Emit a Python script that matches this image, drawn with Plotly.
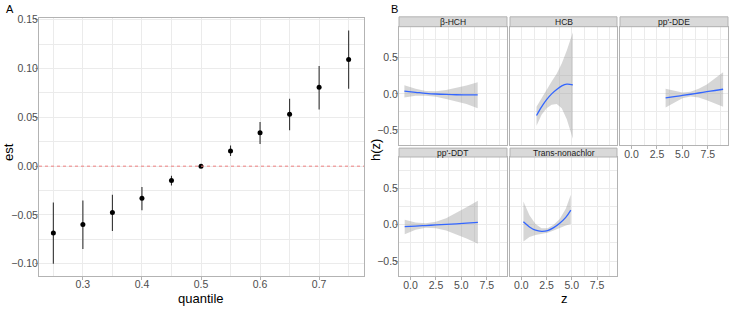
import plotly.graph_objects as go

W, H = 738, 310

# ---------------- Data ----------------
quantile = [0.25, 0.30, 0.35, 0.40, 0.45, 0.50, 0.55, 0.60, 0.65, 0.70, 0.75]
est = [-0.0684, -0.0597, -0.0476, -0.0328, -0.0147, 0.0, 0.0155, 0.0342, 0.0533, 0.0809, 0.1094]
est_lo = [-0.100, -0.0848, -0.0664, -0.0453, -0.0197, 0.0, 0.0105, 0.0228, 0.0369, 0.0581, 0.0792]
est_hi = [-0.0372, -0.0352, -0.0292, -0.0214, -0.0097, 0.0, 0.0211, 0.0453, 0.0691, 0.1026, 0.1390]

hch_z = [-0.6, 0.5, 1.5, 2.5, 3.5, 4.5, 5.5, 6.6]
hch_h = [0.037, 0.022, 0.008, -0.002, -0.008, -0.012, -0.013, -0.014]
hch_lo = [-0.05, -0.025, -0.025, -0.04, -0.07, -0.10, -0.14, -0.20]
hch_hi = [0.12, 0.07, 0.04, 0.035, 0.055, 0.08, 0.115, 0.16]

hcb_z = [1.5, 2.0, 2.5, 3.0, 3.5, 4.0, 4.5, 5.1]
hcb_h = [-0.30, -0.18, -0.08, 0.00, 0.06, 0.11, 0.135, 0.125]
hcb_lo = [-0.44, -0.29, -0.20, -0.15, -0.14, -0.20, -0.35, -0.62]
hcb_hi = [-0.18, -0.06, 0.07, 0.17, 0.28, 0.42, 0.60, 0.85]

dde_z = [3.35, 4.2, 5.0, 5.8, 6.6, 7.4, 8.2, 9.0]
dde_h = [-0.055, -0.038, -0.022, -0.005, 0.012, 0.030, 0.047, 0.064]
dde_lo = [-0.19, -0.12, -0.06, -0.035, -0.05, -0.09, -0.135, -0.18]
dde_hi = [0.07, 0.04, 0.02, 0.03, 0.07, 0.13, 0.21, 0.30]

ddt_z = [-0.57, 0.5, 1.5, 2.5, 3.5, 4.5, 5.5, 6.62]
ddt_h = [-0.027, -0.019, -0.011, -0.003, 0.005, 0.013, 0.021, 0.031]
ddt_lo = [-0.13, -0.07, -0.04, -0.05, -0.08, -0.13, -0.19, -0.26]
ddt_hi = [0.07, 0.03, 0.02, 0.04, 0.09, 0.16, 0.24, 0.33]

tn_z = [0.2, 0.8, 1.4, 2.0, 2.6, 3.2, 3.8, 4.4, 4.9]
tn_h = [0.04, -0.03, -0.075, -0.09, -0.08, -0.04, 0.02, 0.10, 0.20]
tn_lo = [-0.23, -0.17, -0.14, -0.13, -0.11, -0.08, -0.04, -0.01, 0.01]
tn_hi = [0.32, 0.13, 0.01, -0.05, -0.05, 0.00, 0.08, 0.22, 0.41]

facet_names = ["β-HCH", "HCB", "pp'-DDE", "pp'-DDT", "Trans-nonachlor"]
facet_data = [
    (hch_z, hch_h, hch_lo, hch_hi),
    (hcb_z, hcb_h, hcb_lo, hcb_hi),
    (dde_z, dde_h, dde_lo, dde_hi),
    (ddt_z, ddt_h, ddt_lo, ddt_hi),
    (tn_z, tn_h, tn_lo, tn_hi),
]

z_ticks = [0.0, 2.5, 5.0, 7.5]
z_tick_text = ["0.0", "2.5", "5.0", "7.5"]
h_ticks = [-0.5, 0.0, 0.5]
h_tick_text = ["−0.5", "0.0", "0.5"]
q_ticks = [0.3, 0.4, 0.5, 0.6, 0.7]
e_ticks = [-0.10, -0.05, 0.0, 0.05, 0.10, 0.15]
e_tick_text = ["−0.10", "−0.05", "0.00", "0.05", "0.10", "0.15"]

# ---------------- Layout helpers ----------------
FONT = "Liberation Sans, Arial, sans-serif"
GRID = "#EBEBEB"
BORDER = "#B3B3B3"
TICKC = "#4D4D4D"


def xd(a, b):
    return [a / W, b / W]


def yd(top, bottom):
    return [1 - bottom / H, 1 - top / H]


fig = go.Figure()

# ---------------- Panel A ----------------
fig.add_trace(go.Scatter(
    x=quantile, y=est, mode="markers",
    marker=dict(color="black", size=5),
    error_y=dict(type="data", symmetric=False,
                 array=[h - e for h, e in zip(est_hi, est)],
                 arrayminus=[e - l for e, l in zip(est, est_lo)],
                 color="#333333", thickness=1.1, width=0),
    xaxis="x", yaxis="y", showlegend=False, hoverinfo="skip"))

common_axis = dict(
    showline=True, linecolor=BORDER, linewidth=1, mirror=True,
    showgrid=True, gridcolor=GRID, gridwidth=1, zeroline=False,
    ticks="outside", ticklen=3, tickcolor=BORDER,
    tickfont=dict(family=FONT, size=10.5, color=TICKC),
)

layout = dict(
    width=W, height=H, margin=dict(l=0, r=0, t=0, b=0),
    paper_bgcolor="white", plot_bgcolor="white", showlegend=False,
    font=dict(family=FONT),
)

layout["xaxis"] = dict(common_axis, domain=xd(39, 364), range=[0.2257, 0.776],
                       tickvals=q_ticks, ticktext=[str(v) for v in q_ticks],
                       ticklabelstandoff=-5,
                       minor=dict(showgrid=True, gridcolor=GRID, dtick=0.05, tick0=0.25),
                       anchor="y")
layout["yaxis"] = dict(common_axis, domain=yd(14, 276), range=[-0.113, 0.152],
                       tickvals=e_ticks, ticktext=e_tick_text,
                       ticklabelstandoff=-5,
                       minor=dict(showgrid=True, gridcolor=GRID, dtick=0.025, tick0=0.0),
                       anchor="x")

shapes = [dict(type="line", xref="x domain", yref="y", x0=0, x1=1, y0=0, y1=0,
               line=dict(color="#F08080", width=1, dash="dot"))]

# ---------------- Panel B facets ----------------
col_x = [(399, 507), (510, 617), (620, 728)]
rows = [((13, 23), (23, 143)), ((146, 155), (155, 276))]
positions = [(0, 0), (0, 1), (0, 2), (1, 0), (1, 1)]
show_x = [False, False, True, True, True]

annotations = []
for i, (name, (zz, hh, lo, hi)) in enumerate(zip(facet_names, facet_data)):
    r, c = positions[i]
    k = i + 2
    xa, ya = f"x{k}", f"y{k}"
    fig.add_trace(go.Scatter(x=zz, y=lo, mode="lines", line=dict(width=0, color="rgba(0,0,0,0)"),
                             xaxis=xa, yaxis=ya, showlegend=False, hoverinfo="skip"))
    fig.add_trace(go.Scatter(x=zz, y=hi, mode="lines", line=dict(width=0, color="rgba(0,0,0,0)"),
                             fill="tonexty", fillcolor="rgba(153,153,153,0.4)",
                             xaxis=xa, yaxis=ya, showlegend=False, hoverinfo="skip"))
    fig.add_trace(go.Scatter(x=zz, y=hh, mode="lines", line=dict(color="#3366FF", width=1.3, shape="spline"),
                             xaxis=xa, yaxis=ya, showlegend=False, hoverinfo="skip"))
    (st, sb), (pt, pb) = rows[r]
    x0, x1 = col_x[c]
    layout[f"xaxis{k}"] = dict(common_axis, domain=xd(x0, x1), range=[-1.13, 9.48],
                               tickvals=z_ticks, ticktext=z_tick_text,
                               showticklabels=show_x[i],
                               ticks="outside" if show_x[i] else "",
                               ticklabelstandoff=-4,
                               minor=dict(showgrid=True, gridcolor=GRID, dtick=2.5, tick0=1.25),
                               anchor=ya)
    layout[f"yaxis{k}"] = dict(common_axis, domain=yd(pt, pb), range=[-0.71, 0.93],
                               tickvals=h_ticks, ticktext=h_tick_text,
                               showticklabels=(c == 0),
                               ticks="outside" if c == 0 else "",
                               ticklabelstandoff=-5,
                               minor=dict(showgrid=True, gridcolor=GRID, dtick=0.5, tick0=0.25),
                               anchor=xa)
    shapes.append(dict(type="rect", xref="paper", yref="paper",
                       x0=x0 / W, x1=x1 / W, y0=1 - sb / H, y1=1 - st / H,
                       fillcolor="#D9D9D9", line=dict(color=BORDER, width=1), layer="above"))
    annotations.append(dict(text=name, xref="paper", yref="paper",
                            x=(x0 + x1) / 2 / W, y=1 - (st + sb) / 2 / H,
                            xanchor="center", yanchor="middle", showarrow=False,
                            font=dict(family=FONT, size=8.5, color="#1A1A1A")))

# titles / panel labels
annotations += [
    dict(text="A", xref="paper", yref="paper", x=4 / W, y=1 - 5 / H, xanchor="left", yanchor="middle",
         showarrow=False, font=dict(family=FONT, size=11, color="black")),
    dict(text="B", xref="paper", yref="paper", x=389 / W, y=1 - 5 / H, xanchor="left", yanchor="middle",
         showarrow=False, font=dict(family=FONT, size=11, color="black")),
    dict(text="est", xref="paper", yref="paper", x=8 / W, y=1 - 150 / H, xanchor="center", yanchor="middle",
         textangle=-90, showarrow=False, font=dict(family=FONT, size=13, color="black")),
    dict(text="quantile", xref="paper", yref="paper", x=201 / W, y=1 - 298 / H, xanchor="center", yanchor="middle",
         showarrow=False, font=dict(family=FONT, size=13, color="black")),
    dict(text="h(z)", xref="paper", yref="paper", x=375 / W, y=1 - 148 / H, xanchor="center", yanchor="middle",
         textangle=-90, showarrow=False, font=dict(family=FONT, size=13, color="black")),
    dict(text="z", xref="paper", yref="paper", x=564 / W, y=1 - 298 / H, xanchor="center", yanchor="middle",
         showarrow=False, font=dict(family=FONT, size=13, color="black")),
]

layout["shapes"] = shapes
layout["annotations"] = annotations
fig.update_layout(**layout)

fig.write_html("out.html", config={"displayModeBar": False, "staticPlot": True},
               post_script="document.body.style.margin='0';document.body.style.overflow='hidden';")
